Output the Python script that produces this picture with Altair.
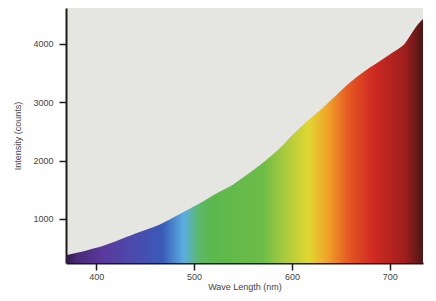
import altair as alt
import pandas as pd

wavelength = [369, 380, 390, 400, 410, 420, 430, 440, 450, 460, 470, 480, 490,
              500, 510, 520, 530, 540, 550, 560, 570, 580, 590, 600, 610, 620,
              630, 640, 650, 660, 670, 680, 690, 700, 710, 715, 720, 725, 730, 734]
intensity = [380, 420, 460, 505, 560, 620, 685, 750, 810, 870, 950, 1040, 1130,
             1220, 1310, 1410, 1500, 1590, 1710, 1830, 1960, 2100, 2250, 2430, 2590, 2740,
             2880, 3040, 3200, 3350, 3480, 3600, 3710, 3820, 3930, 4000, 4120, 4250, 4360, 4430]

x_ticks = [400, 500, 600, 700]
y_ticks = [1000, 2000, 3000, 4000]

stop_offsets = [0.0, 0.03, 0.11, 0.19, 0.27, 0.33, 0.37, 0.41, 0.55, 0.62, 0.68, 0.73, 0.79, 0.86, 0.95, 1.0]
stop_colors = ["#2a1a3a", "#4a2a7a", "#5a3a9e", "#4a4aac", "#3a5ab8", "#5aaee0", "#5cb870",
               "#5cb84c", "#6cbc48", "#b0cc3c", "#e2d632", "#f0a628", "#e55a22", "#d02a22",
               "#a01e1e", "#4a1616"]

df = pd.DataFrame({"wavelength": wavelength, "intensity": intensity})

gradient = alt.Gradient(
    gradient="linear",
    stops=[alt.GradientStop(offset=o, color=c) for o, c in zip(stop_offsets, stop_colors)],
    x1=0, x2=1, y1=0, y2=0,
)

chart = alt.Chart(df).mark_area(interpolate="monotone", color=gradient, clip=True).encode(
    x=alt.X("wavelength:Q",
            scale=alt.Scale(domain=[369, 734], nice=False, zero=False),
            axis=alt.Axis(values=x_ticks, format="d", title="Wave Length (nm)", tickSize=7,
                          labelPadding=2, titlePadding=1)),
    y=alt.Y("intensity:Q",
            scale=alt.Scale(domain=[245, 4617], nice=False, zero=False),
            axis=alt.Axis(values=y_ticks, format="d", title="Intensity (counts)", tickSize=7,
                          labelPadding=6, titlePadding=10)),
).properties(
    width=357, height=255,
    autosize=alt.AutoSizeParams(type="none"),
    padding={"left": 58, "top": 0, "right": 5, "bottom": 30},
).configure_view(
    fill="#e5e5e1", stroke=None
).configure_axis(
    grid=False,
    domainColor="#1a1a1a", domainWidth=2,
    tickColor="#1a1a1a", tickWidth=1.5,
    labelFont="Liberation Sans", labelFontSize=9, labelColor="#444444",
    titleFont="Liberation Sans", titleFontSize=9, titleColor="#444444", titleFontWeight="normal",
)

chart.save("out.html", embed_options={"renderer": "svg", "actions": False})
